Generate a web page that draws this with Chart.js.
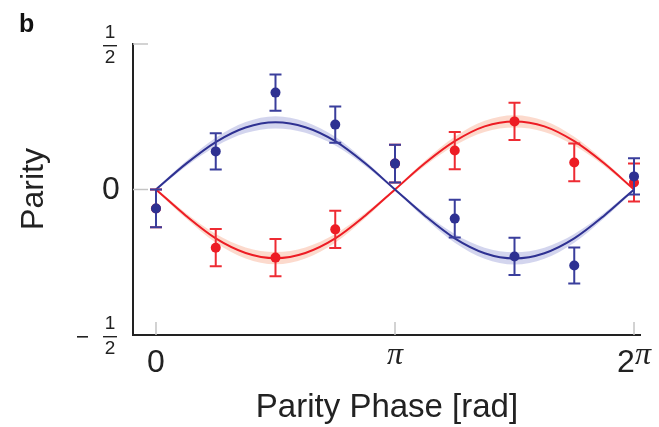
<!DOCTYPE html>
<html>
<head>
<meta charset="utf-8">
<script src="https://cdn.jsdelivr.net/npm/chart.js@4"></script>
<style>
  body { margin: 0; background: #fff; }
  canvas { display: block; }
</style>
</head>
<body>
<canvas id="chart" width="659" height="427"></canvas>
<script>
// measured points, phase in units of pi
const phaseOverPi = [0, 0.25, 0.5, 0.75, 1, 1.25, 1.5, 1.75, 2];
const blueParity = [-0.065, 0.131, 0.333, 0.223, 0.089, -0.100, -0.230, -0.261, 0.045];
const blueError = [0.065, 0.062, 0.062, 0.062, 0.065, 0.065, 0.064, 0.062, 0.062];
const redParity = [-0.065, -0.200, -0.234, -0.137, 0.089, 0.134, 0.234, 0.093, 0.024];
const redError = [0.065, 0.064, 0.064, 0.064, 0.065, 0.064, 0.064, 0.065, 0.065];

// fitted curves every pi/8
const fitPhaseOverPi = [0, 0.125, 0.25, 0.375, 0.5, 0.625, 0.75, 0.875, 1,
                        1.125, 1.25, 1.375, 1.5, 1.625, 1.75, 1.875, 2];
const blueFit = [0, 0.088, 0.163, 0.213, 0.231, 0.214, 0.166, 0.09, 0,
                 -0.09, -0.168, -0.219, -0.237, -0.219, -0.168, -0.09, 0];
const redFit = [0, -0.09, -0.168, -0.218, -0.236, -0.218, -0.168, -0.09, 0,
                0.09, 0.166, 0.217, 0.234, 0.217, 0.166, 0.09, 0];
const fitBand = [0.004, 0.009, 0.015, 0.019, 0.021, 0.019, 0.015, 0.009, 0.004,
                 0.009, 0.015, 0.019, 0.021, 0.019, 0.015, 0.009, 0.004];

const yTicks = [-0.5, 0, 0.5];
const xTicksOverPi = [0, 1, 2];
const xTickLabels = ['0', '\u03C0', '2\u03C0'];

const BLUE = '#2e3192';
const RED = '#ed1c24';
const SANS = '"Liberation Sans", Arial, Helvetica, sans-serif';
const SERIF = '"Liberation Serif", "DejaVu Serif", serif';

function points(xs, ys) {
    return xs.map((x, i) => ({ x: x * Math.PI, y: ys[i] }));
}

function band(values, sign) {
    return values.map((v, i) => v + sign * fitBand[i]);
}

const errorBars = {
    id: 'errorBars',
    beforeDatasetDraw(chart, args) {
        const ds = chart.data.datasets[args.index];
        if (!ds.errors) return;
        const ctx = chart.ctx;
        const yScale = chart.scales.y;
        const xScale = chart.scales.x;
        ctx.save();
        ctx.strokeStyle = ds.errorColor;
        ctx.lineWidth = 2;
        ds.data.forEach((p, i) => {
            const px = xScale.getPixelForValue(p.x);
            const top = yScale.getPixelForValue(p.y + ds.errors[i]);
            const bottom = yScale.getPixelForValue(p.y - ds.errors[i]);
            ctx.beginPath();
            ctx.moveTo(px, top);
            ctx.lineTo(px, bottom);
            ctx.moveTo(px - 6, top);
            ctx.lineTo(px + 6, top);
            ctx.moveTo(px - 6, bottom);
            ctx.lineTo(px + 6, bottom);
            ctx.stroke();
        });
        ctx.restore();
    }
};

function drawFraction(ctx, cx, cy, negative) {
    ctx.font = '19px ' + SANS;
    ctx.textAlign = 'center';
    ctx.textBaseline = 'middle';
    ctx.fillStyle = '#222';
    ctx.fillText('1', cx, cy - 12);
    ctx.fillText('2', cx, cy + 13);
    ctx.fillRect(cx - 7, cy, 14, 1.4);
    if (negative) {
        ctx.fillRect(cx - 33, cy, 11, 1.6);
    }
}

const axisDecor = {
    id: 'axisDecor',
    beforeDatasetsDraw(chart) {
        const ctx = chart.ctx;
        const { x, y } = chart.scales;
        const area = chart.chartArea;
        ctx.save();
        ctx.strokeStyle = '#c4c4c4';
        ctx.lineWidth = 1.5;
        yTicks.forEach(v => {
            if (v === yTicks[0]) return;
            const py = y.getPixelForValue(v);
            ctx.beginPath();
            ctx.moveTo(area.left, py);
            ctx.lineTo(area.left + 15, py);
            ctx.stroke();
        });
        xTicksOverPi.forEach(v => {
            const px = x.getPixelForValue(v * Math.PI);
            ctx.beginPath();
            ctx.moveTo(px, area.bottom);
            ctx.lineTo(px, area.bottom - 13);
            ctx.stroke();
        });
        ctx.restore();
    },
    afterDraw(chart) {
        const ctx = chart.ctx;
        const { x, y } = chart.scales;
        const area = chart.chartArea;
        ctx.save();

        // y tick labels
        yTicks.forEach(v => {
            const py = y.getPixelForValue(v);
            if (v === 0) {
                ctx.font = '32px ' + SANS;
                ctx.textAlign = 'center';
                ctx.textBaseline = 'middle';
                ctx.fillStyle = '#222';
                ctx.fillText('0', 111, py + 1);
            } else {
                drawFraction(ctx, 110, py + 1, v < 0);
            }
        });

        // x tick labels
        xTicksOverPi.forEach((v, i) => {
            const px = x.getPixelForValue(v * Math.PI);
            ctx.fillStyle = '#222';
            ctx.textAlign = 'center';
            ctx.textBaseline = 'alphabetic';
            if (i === 0) {
                ctx.font = '32px ' + SANS;
                ctx.fillText(xTickLabels[i], px, area.bottom + 37);
            } else if (i === 1) {
                ctx.font = 'italic 32px ' + SERIF;
                ctx.fillText(xTickLabels[i], px, area.bottom + 29);
            } else {
                ctx.font = '32px ' + SANS;
                const w2 = ctx.measureText('2').width;
                ctx.font = 'italic 32px ' + SERIF;
                const wp = ctx.measureText('\u03C0').width;
                const start = px - (w2 + wp) / 2;
                ctx.textAlign = 'left';
                ctx.font = '32px ' + SANS;
                ctx.fillText('2', start, area.bottom + 37);
                ctx.font = 'italic 32px ' + SERIF;
                ctx.fillText('\u03C0', start + w2, area.bottom + 29);
            }
        });

        // axis titles
        ctx.fillStyle = '#222';
        ctx.font = '33px ' + SANS;
        ctx.textAlign = 'center';
        ctx.textBaseline = 'alphabetic';
        ctx.fillText('Parity Phase [rad]', 387, 417);

        ctx.font = '32px ' + SANS;
        ctx.translate(43, 189);
        ctx.rotate(-Math.PI / 2);
        ctx.fillText('Parity', 0, 0);
        ctx.setTransform(1, 0, 0, 1, 0, 0);

        ctx.font = 'bold 25px ' + SANS;
        ctx.textAlign = 'left';
        ctx.fillStyle = '#111';
        ctx.fillText('b', 19, 32);
        ctx.restore();
    }
};

const fitLine = (data, color, order) => ({
    data: data,
    borderColor: color,
    borderWidth: 2,
    pointRadius: 0,
    showLine: true,
    cubicInterpolationMode: 'monotone',
    fill: false,
    order: order
});

const bandLine = (data, fillColor, order, target) => ({
    data: data,
    borderWidth: 0,
    borderColor: 'rgba(0,0,0,0)',
    backgroundColor: fillColor,
    pointRadius: 0,
    showLine: true,
    cubicInterpolationMode: 'monotone',
    fill: target === undefined ? false : target,
    order: order
});

new Chart(document.getElementById('chart'), {
    type: 'scatter',
    data: {
        datasets: [
            {
                data: points(phaseOverPi, blueParity),
                errors: blueError,
                errorColor: '#3a3e9c',
                backgroundColor: BLUE,
                borderColor: BLUE,
                pointRadius: 5,
                borderWidth: 0,
                order: 0
            },
            {
                data: points(phaseOverPi, redParity),
                errors: redError,
                errorColor: '#ee2b33',
                backgroundColor: RED,
                borderColor: RED,
                pointRadius: 5,
                borderWidth: 0,
                order: 1
            },
            fitLine(points(fitPhaseOverPi, blueFit), BLUE, 2),
            fitLine(points(fitPhaseOverPi, redFit), RED, 3),
            bandLine(points(fitPhaseOverPi, band(blueFit, 1)), 'rgba(110,115,200,0.3)', 4),
            bandLine(points(fitPhaseOverPi, band(blueFit, -1)), 'rgba(110,115,200,0.3)', 4, 4),
            bandLine(points(fitPhaseOverPi, band(redFit, 1)), 'rgba(245,140,100,0.32)', 5),
            bandLine(points(fitPhaseOverPi, band(redFit, -1)), 'rgba(245,140,100,0.32)', 5, 6)
        ]
    },
    options: {
        responsive: false,
        animation: false,
        devicePixelRatio: 1,
        layout: { padding: { left: 133, right: 19, top: 44, bottom: 92 } },
        plugins: { legend: { display: false }, tooltip: { enabled: false } },
        scales: {
            x: {
                type: 'linear',
                min: -0.3023,
                max: 6.362,
                grid: { display: false, drawTicks: false },
                ticks: { display: false },
                border: { display: true, color: '#222', width: 2 }
            },
            y: {
                min: -0.5,
                max: 0.5,
                grid: { display: false, drawTicks: false },
                ticks: { display: false },
                border: { display: true, color: '#222', width: 2 }
            }
        }
    },
    plugins: [errorBars, axisDecor]
});
</script>
</body>
</html>
